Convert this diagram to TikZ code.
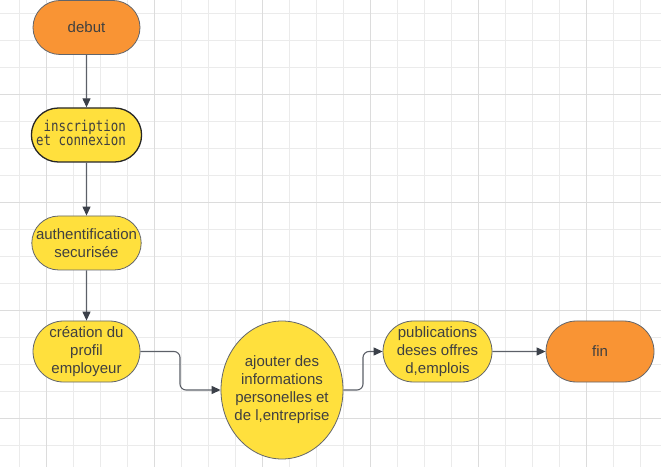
\documentclass[tikz,border=0pt]{standalone}
\usepackage{fontspec}
\setmainfont{Liberation Sans}
\newfontfamily\monofnt[FakeStretch=0.83]{DejaVu Sans Mono}
\usetikzlibrary{shapes.misc,shapes.geometric,arrows.meta}
\definecolor{orangefill}{HTML}{F99434}
\definecolor{yellowfill}{HTML}{FFE03D}
\definecolor{bordergray}{HTML}{62656B}
\definecolor{txtgray}{HTML}{404040}
\definecolor{linegray}{HTML}{5C6068}
\definecolor{headgray}{HTML}{3B4049}
\definecolor{gridminor}{HTML}{EBEBEB}
\definecolor{gridmajor}{HTML}{DCDCDC}
\tikzset{
  minorgrid/.style={draw=gridminor,line width=0.9bp},
  majorgrid/.style={draw=gridmajor,line width=1bp},
  basetext/.style={text=txtgray,font=\fontsize{15bp}{18bp}\selectfont,align=center,inner sep=0pt},
  stadium/.style={basetext,rounded rectangle,draw=bordergray,line width=0.8bp,minimum width=107bp},
  startend/.style={stadium,fill=orangefill},
  proc/.style={stadium,fill=yellowfill},
  ovalbox/.style={basetext,ellipse,draw=bordergray,line width=0.8bp,fill=yellowfill,minimum width=122bp,minimum height=138bp},
  conn/.style={draw=linegray,line width=1.1bp,rounded corners=6bp,-{Triangle[length=9bp,width=8bp,fill=headgray,color=headgray]}}
}
\begin{document}
\begin{tikzpicture}[x=1bp,y=-1bp]
\useasboundingbox (0,0) rectangle (661,467);
\fill[white] (0,0) rectangle (661,467);
% grid
\foreach \k in {0,...,23} \draw[minorgrid] ({19.7+27*\k},0) -- ++(0,467);
\foreach \k in {0,...,16} \draw[minorgrid] (0,{13.3+27*\k}) -- ++(661,0);
\foreach \k in {1,5,9,13,17,21} \draw[majorgrid] ({19.7+27*\k},0) -- ++(0,467);
\foreach \k in {3,7,11,15} \draw[majorgrid] (0,{13.3+27*\k}) -- ++(661,0);
% nodes
\node[startend,minimum height=54bp] (debut) at (86.5,27.5) {debut};
\node[proc,minimum height=54bp,draw=black!85,line width=1.3bp,
      font=\monofnt\fontsize{15bp}{14bp}\selectfont] (insc) at (86.5,135)
      {\begin{tabular}{@{}r@{\hspace{11bp}}}inscription\\[-1bp]et connexion\end{tabular}};
\node[proc,minimum height=54bp] (auth) at (86.5,243) {authentification\\securisée};
\node[proc,minimum height=61bp] (creat) at (86.5,351.5) {création du\\profil\\employeur};
\node[ovalbox] (ajout) at (282,390) {\makebox[0pt]{\begin{tabular}{@{}c@{}}ajouter des\\informations\\personelles et\\de l,entreprise\end{tabular}}};
\node[proc,minimum width=109bp,minimum height=61bp] (pub) at (437.5,351.5) {publications\\deses offres\\d,emplois};
\node[startend,minimum width=108bp,minimum height=61bp] (fin) at (600,351.5) {fin};
% connector bends
\coordinate (b1) at (180,370);
\coordinate (b2) at (363,370);
% connectors
\draw[conn] (debut) -- (insc);
\draw[conn] (insc) -- (auth);
\draw[conn] (auth) -- (creat);
\draw[conn] (creat.east) -| (b1) |- (ajout.west);
\draw[conn] (ajout.east) -| (b2) |- (pub.west);
\draw[conn] (pub) -- (fin);
\end{tikzpicture}
\end{document}
